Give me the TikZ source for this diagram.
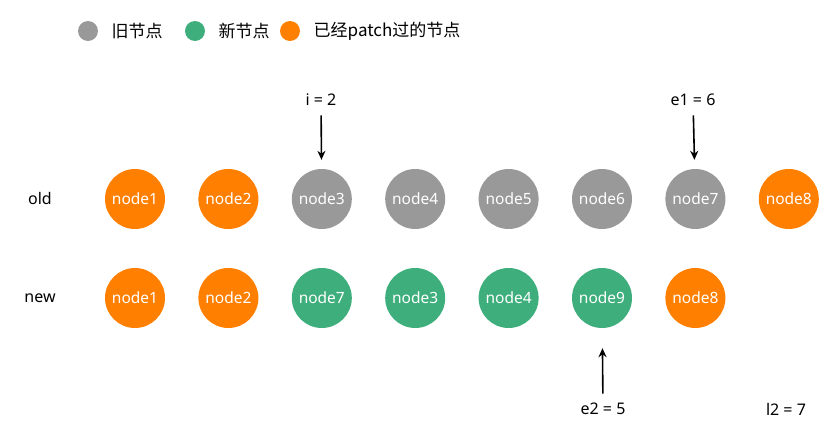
\documentclass[tikz,border=0pt]{standalone}
\usepackage{fontspec}
\setmainfont{Noto Sans}
\newfontfamily\cjk{Noto Sans CJK SC}
\usepackage{tikz}
\usetikzlibrary{positioning, arrows.meta}
\definecolor{oldgray}{HTML}{999999}
\definecolor{newgreen}{HTML}{3EAF7C}
\definecolor{donecol}{HTML}{FF8000}
\tikzset{
  vnode/.style={circle, minimum size=60pt, inner sep=0pt, text=white, font=\fontsize{15.5}{15.5}\selectfont},
  dot/.style={circle, minimum size=20pt, inner sep=0pt},
  tag/.style={font=\fontsize{16}{16}\selectfont},
  legend/.style={font=\fontsize{17}{17}\selectfont\cjk},
  ptr/.style={line width=1.6pt, -{Stealth[length=9pt, width=8pt]}}
}

\begin{document}
\begin{tikzpicture}[x=1pt, y=-1pt]
        \useasboundingbox (0,0) rectangle (831,441);
        % legend
        \node (lgray) [dot, fill=oldgray] at (88,31) {};
        \node (tgray) [legend, right=10pt of lgray] {旧节点};
        \node (lgreen) [dot, fill=newgreen] at (195,31) {};
        \node (tgreen) [legend, right=10pt of lgreen] {新节点};
        \node (lorange) [dot, fill=donecol] at (290,31) {};
        \node (torange) [legend, right=10pt of lorange] {已经patch过的节点};
        % old row
        \node (old) [tag] at (40,199) {old};
        \node (o1) [vnode, fill=donecol] at (135,199) {node1};
        \node (o2) [vnode, fill=donecol, right=33pt of o1] {node2};
        \node (o3) [vnode, fill=oldgray, right=33pt of o2] {node3};
        \node (o4) [vnode, fill=oldgray, right=33pt of o3] {node4};
        \node (o5) [vnode, fill=oldgray, right=33pt of o4] {node5};
        \node (o6) [vnode, fill=oldgray, right=33pt of o5] {node6};
        \node (o7) [vnode, fill=oldgray, right=33pt of o6] {node7};
        \node (o8) [vnode, fill=donecol, right=33pt of o7] {node8};
        % new row
        \node (new) [tag] at (40,298) {new};
        \node (n1) [vnode, fill=donecol] at (135,298) {node1};
        \node (n2) [vnode, fill=donecol, right=33pt of n1] {node2};
        \node (n3) [vnode, fill=newgreen, right=33pt of n2] {node7};
        \node (n4) [vnode, fill=newgreen, right=33pt of n3] {node3};
        \node (n5) [vnode, fill=newgreen, right=33pt of n4] {node4};
        \node (n6) [vnode, fill=newgreen, right=33pt of n5] {node9};
        \node (n7) [vnode, fill=donecol, right=33pt of n6] {node8};
        % pointers
        \node (i) [tag] at (321,100) {i = 2};
        \node (e1) [tag] at (693,100) {e1 = 6};
        \node (e2) [tag] at (603,409) {e2 = 5};
        \node (l2) [tag] at (786,409) {l2 = 7};
        \draw [ptr, shorten <=6pt, shorten >=9pt] (i) -- (o3);
        \draw [ptr, shorten <=6pt, shorten >=9pt] (e1) -- (o7);
        \draw [ptr, shorten <=6pt, shorten >=20pt] (e2) -- (n6);
    \end{tikzpicture}
\end{document}
